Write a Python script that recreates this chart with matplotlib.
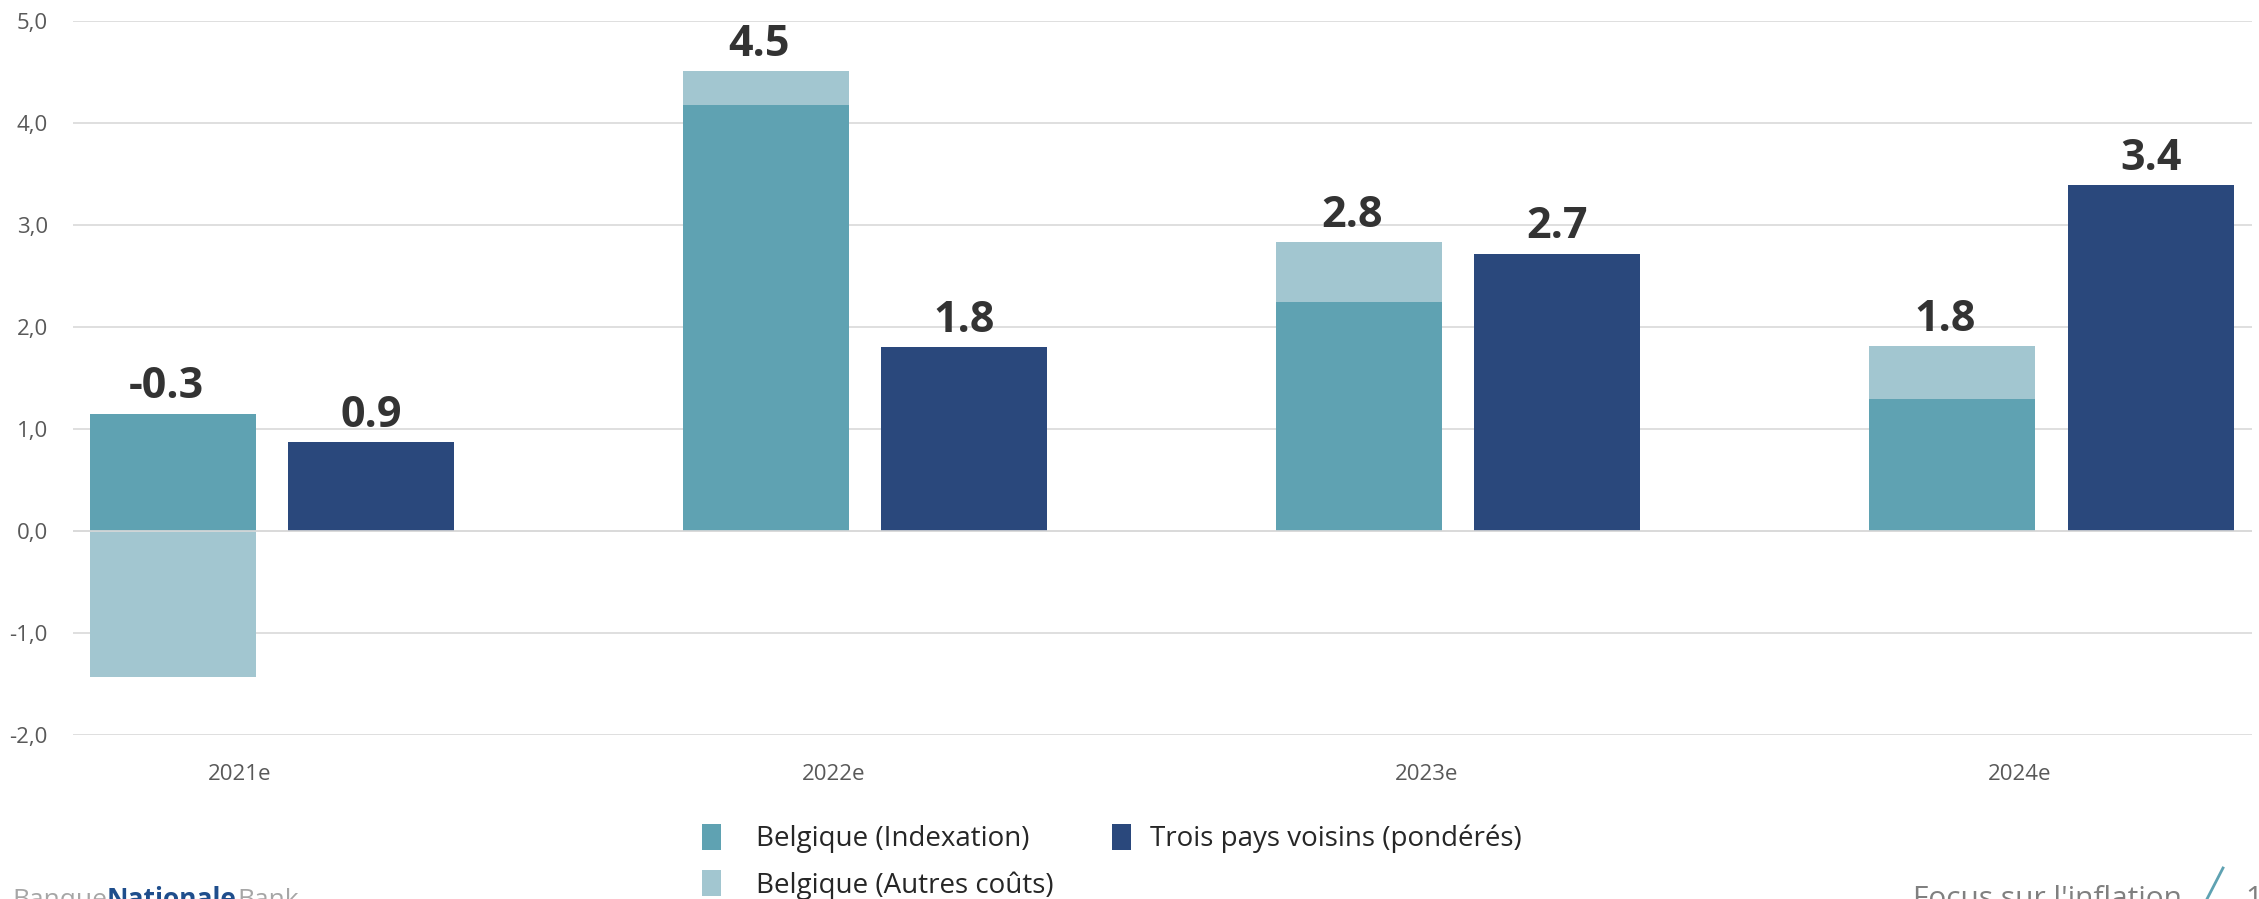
import numpy as np
import matplotlib
matplotlib.use("Agg")
import matplotlib.pyplot as plt
from matplotlib.patches import Patch
from matplotlib.lines import Line2D

# ---- data ----
categories = ['2021e', '2022e', '2023e', '2024e']
indexation = np.array([1.15, 4.18, 2.25, 1.29])     # Belgique (Indexation)
autres = np.array([-1.43, 0.33, 0.58, 0.52])         # Belgique (Autres coûts)
voisins = np.array([0.87, 1.80, 2.72, 3.39])         # Trois pays voisins (pondérés)
yticks = [-2.0, -1.0, 0.0, 1.0, 2.0, 3.0, 4.0, 5.0]
legend_labels = ['Belgique (Indexation)', 'Belgique (Autres coûts)', 'Trois pays voisins (pondérés)']

# ---- style ----
C_IDX = '#5fa2b2'
C_AUT = '#a2c6d0'
C_VOI = '#2a487c'
C_GRID = '#d9d9d9'
C_TICK = '#595959'
C_VAL = '#333333'
FONT = 'Open Sans'
plt.rcParams['font.family'] = [FONT, 'DejaVu Sans']

W, H = 2259, 899
DPI = 100
fig = plt.figure(figsize=(W / DPI, H / DPI), dpi=DPI)
ax = fig.add_axes([73 / W, 1 - 735 / H, (2252 - 73) / W, (735 - 21) / H])

x = np.arange(len(categories))
off_be, off_vo, bw = -0.113, 0.221, 0.280

bottom_aut = np.where(autres < 0, 0, indexation)
ax.bar(x + off_be, indexation, bw, color=C_IDX, linewidth=0, zorder=3)
ax.bar(x + off_be, autres, bw, bottom=bottom_aut, color=C_AUT, linewidth=0, zorder=3)
ax.bar(x + off_vo, voisins, bw, color=C_VOI, linewidth=0, zorder=3)
ax.axhline(0, color=C_GRID, linewidth=1.2, zorder=4)

# value labels
total_be = indexation + autres
top_be = np.maximum(indexation, 0) + np.maximum(autres, 0)
for i in range(len(categories)):
    ax.annotate(f"{total_be[i]:.1f}", (x[i] + off_be, top_be[i]), xytext=(-5, 11),
                textcoords='offset points', ha='center', va='baseline',
                fontsize=31, fontweight='bold', color=C_VAL, zorder=5)
    ax.annotate(f"{voisins[i]:.1f}", (x[i] + off_vo, voisins[i]), xytext=(0, 11),
                textcoords='offset points', ha='center', va='baseline',
                fontsize=31, fontweight='bold', color=C_VAL, zorder=5)

ax.set_xlim(-0.2815, 3.392)
ax.set_ylim(-2, 5)
ax.set_yticks(yticks)
ax.set_yticklabels([f"{v:.1f}".replace('.', ',') for v in yticks])
ax.set_xticks(x)
ax.set_xticklabels(categories)
ax.tick_params(axis='both', length=0, labelsize=16, labelcolor=C_TICK)
ax.tick_params(axis='y', pad=18)
ax.tick_params(axis='x', pad=21)
for s in ax.spines.values():
    s.set_visible(False)
ax.yaxis.grid(True, color=C_GRID, linewidth=1.2, zorder=0)
ax.set_axisbelow(True)

# legend (two columns built separately to match spacing)
leg_kw = dict(loc='upper left', frameon=False, fontsize=20, handlelength=0.68,
              handleheight=1.06, labelspacing=0.6, borderaxespad=0, borderpad=0)
leg1 = fig.legend([Patch(facecolor=C_IDX), Patch(facecolor=C_AUT)], legend_labels[:2],
                  bbox_to_anchor=(702 / W, 1 - 824 / H), handletextpad=1.26, **leg_kw)
leg2 = fig.legend([Patch(facecolor=C_VOI)], legend_labels[2:],
                  bbox_to_anchor=(1112 / W, 1 - 824 / H), handletextpad=0.68, **leg_kw)
for lg in (leg1, leg2):
    for t in lg.get_texts():
        t.set_color('#262626')

# footer
fx = 12 / W
fy = -8 / H
t1 = fig.text(fx, fy, 'Banque', fontsize=19, color='#a6a6a6', va='baseline', ha='left')
fig.canvas.draw()
r = fig.canvas.get_renderer()
bb = t1.get_window_extent(r)
t2 = fig.text(bb.x1 / W, fy, 'Nationale', fontsize=19, color='#1f4e8c', fontweight='bold', va='baseline', ha='left')
bb2 = t2.get_window_extent(r)
fig.text(bb2.x1 / W, fy, 'Bank', fontsize=19, color='#a6a6a6', va='baseline', ha='left')

fig.text(2182 / W, fy, "Focus sur l'inflation", fontsize=21.5, color='#808080', va='baseline', ha='right')
fig.add_artist(Line2D([2207 / W, 2223 / W], [0, 31 / H], color=C_IDX, linewidth=2, transform=fig.transFigure))
fig.text(2245 / W, fy, '1', fontsize=21.5, color='#808080', va='baseline', ha='left')

fig.savefig('out.png', dpi=DPI)
